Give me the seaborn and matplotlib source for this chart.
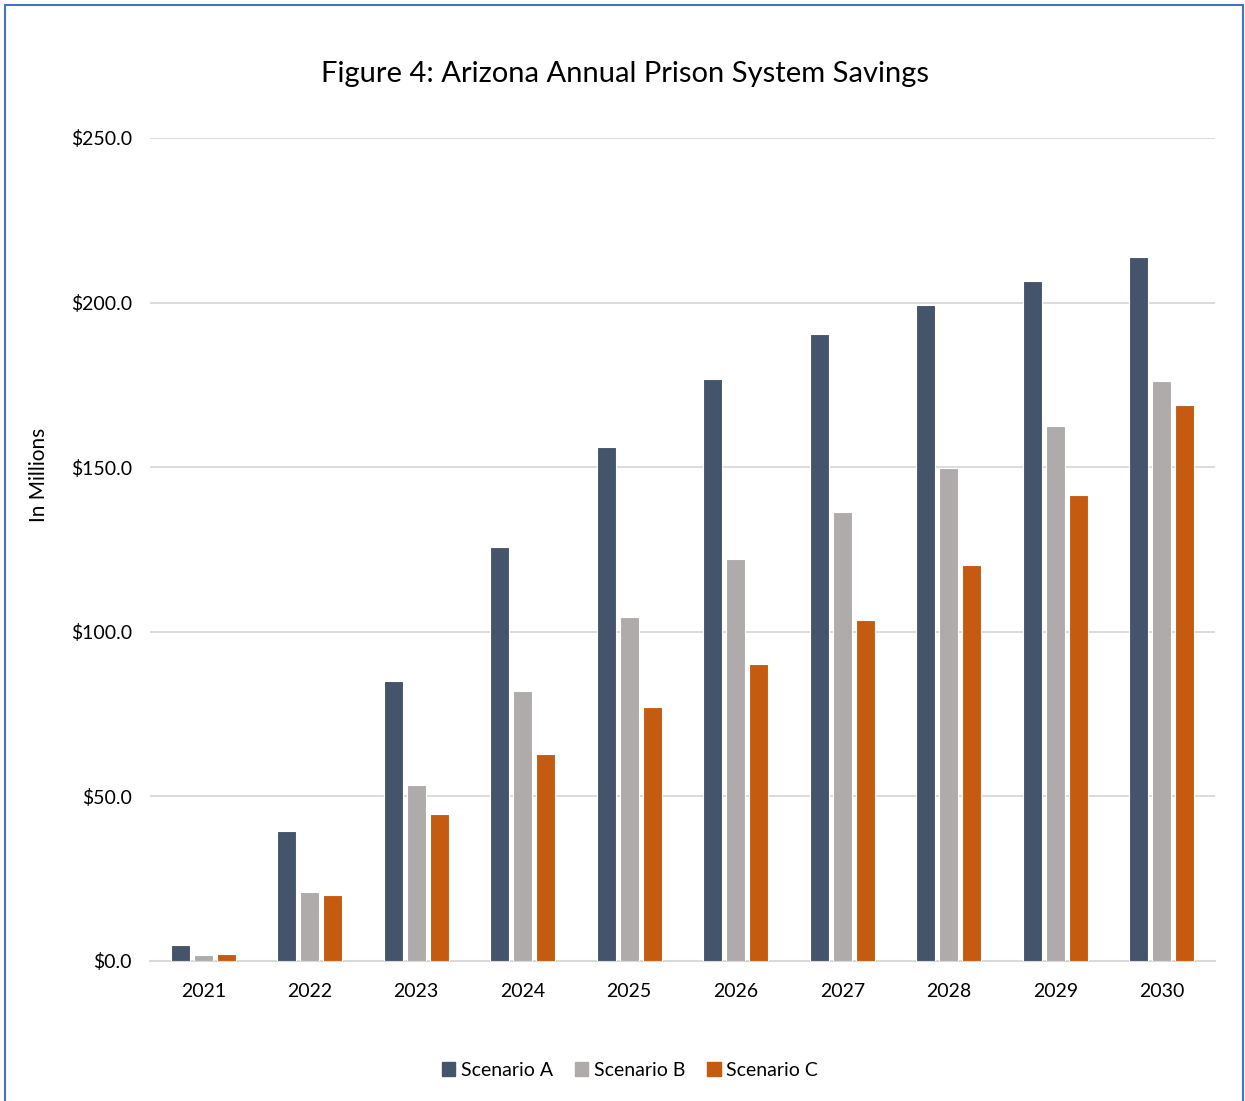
import matplotlib
matplotlib.use("Agg")
import matplotlib.pyplot as plt
from matplotlib.patches import Rectangle
from matplotlib.ticker import FuncFormatter
import seaborn as sns
import pandas as pd

years = ["2021", "2022", "2023", "2024", "2025", "2026", "2027", "2028", "2029", "2030"]
scenario_a = [4.9, 39.5, 85.0, 125.8, 156.1, 176.8, 190.5, 199.3, 206.6, 213.9]
scenario_b = [1.8, 21.0, 53.5, 82.0, 104.5, 122.1, 136.4, 149.8, 162.5, 176.2]
scenario_c = [2.0, 20.0, 44.7, 62.9, 77.2, 90.2, 103.6, 120.3, 141.6, 168.9]
scenarios = ["Scenario A", "Scenario B", "Scenario C"]
colors = ["#44546A", "#AFABAB", "#C55A11"]

df = pd.DataFrame({
    "Year": years * 3,
    "Savings": scenario_a + scenario_b + scenario_c,
    "Scenario": [s for s in scenarios for _ in years],
})

sns.set_theme(style="white")
plt.rcParams["font.family"] = ["Lato", "DejaVu Sans"]
plt.rcParams["text.color"] = "black"

fig = plt.figure(figsize=(12.45, 11.01), dpi=100)
ax = fig.add_axes([150 / 1245, 140 / 1101, 1065 / 1245, 823 / 1101])

sns.barplot(data=df, x="Year", y="Savings", hue="Scenario", palette=colors,
            width=0.65, gap=0.17, edgecolor="white", linewidth=0.8,
            saturation=1, ax=ax, legend=False, zorder=3)

ax.set_ylim(0, 250)
ax.set_xlim(-0.5, 9.5)
ax.set_yticks([0, 50, 100, 150, 200, 250])
ax.yaxis.set_major_formatter(FuncFormatter(lambda v, _: f"${v:.1f}"))
ax.grid(axis="y", color="#D9D9D9", linewidth=1.3, zorder=0)
for side in ["top", "right", "left"]:
    ax.spines[side].set_visible(False)
ax.spines["bottom"].set_color("#D9D9D9")
ax.spines["bottom"].set_linewidth(1.5)
ax.tick_params(axis="both", length=0, labelsize=14, colors="black")
ax.tick_params(axis="y", pad=13)
ax.tick_params(axis="x", pad=16)
ax.set_xlabel("")
ax.set_ylabel("")

fig.text(39 / 1245, 1 - 475 / 1101, "In Millions", rotation=90,
         ha="center", va="center", fontsize=15)

fig.text(625 / 1245, 1 - 74 / 1101, "Figure 4: Arizona Annual Prison System Savings",
         ha="center", va="center", fontsize=21)

handles = [Rectangle((0, 0), 1, 1, color=c) for c in colors]
fig.legend(handles, scenarios, loc="center", bbox_to_anchor=(630 / 1245, 1 - 1070 / 1101),
           ncol=3, frameon=False, fontsize=14, handlelength=0.7, handleheight=0.7,
           handletextpad=0.3, columnspacing=1.1)

fig.patches.append(Rectangle((5 / 1245, -0.05), 1238 / 1245, 1.05 - 5 / 1101,
                             transform=fig.transFigure, fill=False,
                             edgecolor="#4472C4", linewidth=1.5))

fig.savefig("out.png", dpi=100)
